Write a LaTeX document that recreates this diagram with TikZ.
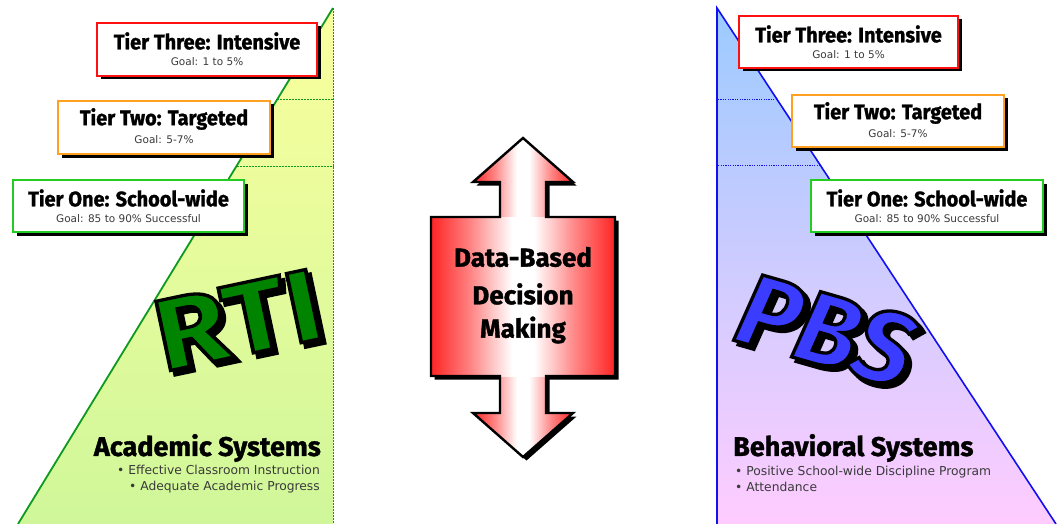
\documentclass[tikz,border=0pt]{standalone}
\usepackage{fontspec}
\setmainfont{DejaVu Sans}
\newfontfamily\headfont{Fira Sans}[BoldFeatures={FakeBold=1.3}]
\newfontfamily\bigfont{Fira Sans}[BoldFeatures={FakeBold=3.2}, BoldItalicFeatures={FakeBold=3.2}]
\usetikzlibrary{calc,shadows}

\definecolor{lemon}{HTML}{FAFF9E}
\definecolor{lime}{HTML}{CFF79A}
\definecolor{skyblue}{HTML}{9CCBFF}
\definecolor{pinkish}{HTML}{FFCCFF}
\definecolor{rtigreen}{HTML}{008400}
\definecolor{hypgreen}{HTML}{0E9A1E}
\definecolor{pbsblue}{HTML}{3A3CFF}
\definecolor{hypblue}{HTML}{1010F0}
\definecolor{tierred}{HTML}{FF1010}
\definecolor{tierorange}{HTML}{FFA020}
\definecolor{tiergreen}{HTML}{22CC22}
\definecolor{arrowred}{HTML}{FF2424}
\definecolor{goalgray}{HTML}{3A3A3A}

% red edges fading to a white centre band, left to right
\pgfdeclarehorizontalshading{redglow}{100bp}{%
  color(0bp)=(arrowred); color(25bp)=(arrowred);
  color(36bp)=(arrowred!55!white); color(47bp)=(white); color(53bp)=(white);
  color(64bp)=(arrowred!55!white); color(75bp)=(arrowred); color(100bp)=(arrowred)}

\tikzset{
  tierbox/.style={draw=#1, line width=2pt, fill=white, anchor=north west,
    inner sep=0pt,
    drop shadow={shadow xshift=3.5pt, shadow yshift=-3.5pt, fill=black, opacity=1}},
  tiertitle/.style={font=\headfont\bfseries\fontsize{21}{21}\selectfont, inner sep=0pt},
  goaltext/.style={font=\fontsize{10.5}{10.5}\selectfont, text=goalgray, inner sep=0pt},
  systitle/.style={font=\headfont\bfseries\fontsize{27}{27}\selectfont, inner sep=0pt},
  bullettext/.style={font=\fontsize{12.3}{12.3}\selectfont, text=goalgray, inner sep=0pt},
  bigword/.style={font=\bigfont\bfseries\fontsize{102}{102}\selectfont, inner sep=0pt},
  arrowword/.style={font=\headfont\bfseries\fontsize{26}{26}\selectfont, inner sep=0pt},
}

\newcommand{\squeeze}[1]{\scalebox{0.95}[1]{#1}}
\newcommand{\widen}[1]{\scalebox{1.15}[1]{#1}}
% coloured letters whose emboldening stroke is black
\newcommand{\inked}[2]{\color{#1}\special{pdf:code 0 0 0 RG}#2}

\begin{document}
\begin{tikzpicture}[x=1pt,y=-1pt]
\useasboundingbox (0,0) rectangle (1057,524);
\fill[white] (0,0) rectangle (1057,524);

% ---------- RTI triangle ----------
\coordinate (lA) at (333,8);
\coordinate (lB) at (18,524);
\coordinate (lC) at (333,524);
\shade[top color=lemon, bottom color=lime] (lA) -- (lB) -- (lC) -- cycle;
\draw[hypgreen, line width=0.8pt, dash pattern=on 2pt off 1pt] (lA) -- (lC);
\coordinate (lT2) at ($(lA)!0.1764!(lB)$);
\coordinate (lT1) at ($(lA)!0.3062!(lB)$);
\draw[hypgreen, line width=0.8pt, dash pattern=on 2pt off 1pt] (lT2) -- (lT2 -| lC);
\draw[hypgreen, line width=0.8pt, dash pattern=on 2pt off 1pt] (lT1) -- (lT1 -| lC);
\draw[hypgreen, line width=1.8pt] (lA) -- (lB);

% ---------- PBS triangle ----------
\coordinate (rA) at (717,8);
\coordinate (rB) at (1056,524);
\coordinate (rC) at (717,524);
\shade[top color=skyblue, bottom color=pinkish] (rA) -- (rB) -- (rC) -- cycle;
\coordinate (rT2) at ($(rA)!0.1764!(rB)$);
\coordinate (rT1) at ($(rA)!0.3043!(rB)$);
\draw[hypblue, line width=0.8pt, dash pattern=on 1.2pt off 1.2pt] (rT2) -- (rT2 -| rC);
\draw[hypblue, line width=0.8pt, dash pattern=on 1.2pt off 1.2pt] (rT1) -- (rT1 -| rC);
\draw[hypblue, line width=1.6pt] (rC) -- (rA) -- (rB);

% ---------- tier boxes, left ----------
\node[tierbox=tierred, minimum width=220pt, minimum height=53pt] (l3) at (96,22) {};
\node[tiertitle] (l3t) at ([yshift=-19pt]l3.north) {\squeeze{Tier Three: Intensive}};
\node[goaltext] (l3g) at ([yshift=-40pt]l3.north) {Goal: 1 to 5\%};

\node[tierbox=tierorange, minimum width=212pt, minimum height=53pt] (l2) at (57,100) {};
\node[tiertitle] (l2t) at ([yshift=-19pt]l2.north) {\squeeze{Tier Two: Targeted}};
\node[goaltext] (l2g) at ([yshift=-40pt]l2.north) {Goal: 5-7\%};

\node[tierbox=tiergreen, minimum width=231pt, minimum height=52pt] (l1) at (12,179) {};
\node[tiertitle] (l1t) at ([yshift=-19pt]l1.north) {\squeeze{Tier One: School-wide}};
\node[goaltext] (l1g) at ([yshift=-40pt]l1.north) {Goal: 85 to 90\% Successful};

% ---------- tier boxes, right ----------
\node[tierbox=tierred, minimum width=219pt, minimum height=52pt] (r3) at (738,15) {};
\node[tiertitle] (r3t) at ([yshift=-19pt]r3.north) {\squeeze{Tier Three: Intensive}};
\node[goaltext] (r3g) at ([yshift=-40pt]r3.north) {Goal: 1 to 5\%};

\node[tierbox=tierorange, minimum width=212pt, minimum height=52pt] (r2) at (791,94) {};
\node[tiertitle] (r2t) at ([yshift=-19pt]r2.north) {\squeeze{Tier Two: Targeted}};
\node[goaltext] (r2g) at ([yshift=-40pt]r2.north) {Goal: 5-7\%};

\node[tierbox=tiergreen, minimum width=232pt, minimum height=52pt] (r1) at (810,179) {};
\node[tiertitle] (r1t) at ([yshift=-19pt]r1.north) {\squeeze{Tier One: School-wide}};
\node[goaltext] (r1g) at ([yshift=-40pt]r1.north) {Goal: 85 to 90\% Successful};

% ---------- big lettering: shadow, then outlined letters ----------
\coordinate (rtiC) at (238,320);
\node[bigword, text=black, rotate=12] (rtiShadow) at ([shift={(4.5pt,-4.5pt)}]rtiC) {\widen{RTI}};
\node[bigword, rotate=12] (rti) at (rtiC) {\widen{\inked{rtigreen}{RTI}}};

\coordinate (pbsC) at (826,330);
\node[bigword, text=black, rotate=-16] (pbsShadow) at ([shift={(4.5pt,-4.5pt)}]pbsC) {\itshape PBS};
\node[bigword, rotate=-16] (pbs) at (pbsC) {\itshape\inked{pbsblue}{PBS}};

% ---------- system labels ----------
\node[systitle, anchor=east] (acad) at (321,448) {Academic Systems};
\node[bullettext, anchor=east] (acad1) at (320,470) {• Effective Classroom Instruction};
\node[bullettext, anchor=east] (acad2) at (320,487) {• Adequate Academic Progress};

\node[systitle, anchor=west] (behav) at (733,448) {Behavioral Systems};
\node[bullettext, anchor=west] (behav1) at (735,472) {• Positive School-wide Discipline Program};
\node[bullettext, anchor=west] (behav2) at (735,487) {• Attendance};

% ---------- double arrow ----------
\def\arrowpath{(523,138) -- (573,182) -- (546,182) -- (546,217) -- (615,217) -- (615,376)
  -- (546,376) -- (546,413) -- (573,413) -- (523,457) -- (473,413) -- (500,413)
  -- (500,376) -- (431,376) -- (431,217) -- (500,217) -- (500,182) -- (473,182) -- cycle}
\fill[black, shift={(3.5pt,-3.5pt)}] \arrowpath;
% each part carries its own red-to-white glow
\shade[shading=redglow] (523,138) -- (573,182) -- (546,182) -- (546,218)
  -- (500,218) -- (500,182) -- (473,182) -- cycle;
\shade[shading=redglow] (523,457) -- (573,413) -- (546,413) -- (546,375)
  -- (500,375) -- (500,413) -- (473,413) -- cycle;
\shade[shading=redglow] (431,217) rectangle (615,376);
\draw[black, line width=2.4pt, line join=miter] \arrowpath;
\node[arrowword] (dm1) at (523,257) {Data-Based};
\node[arrowword] (dm2) at (523,294) {Decision};
\node[arrowword] (dm3) at (523,330) {Making};
\end{tikzpicture}
\end{document}
